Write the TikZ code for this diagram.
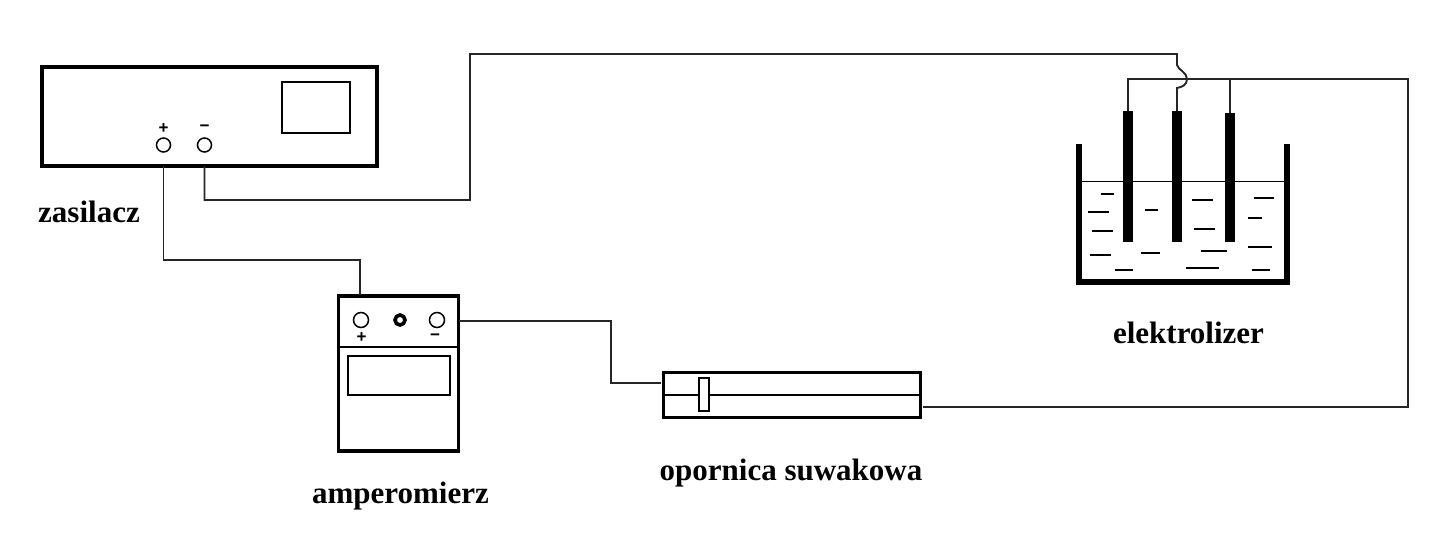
\documentclass[tikz,border=0pt]{standalone}
\usepackage{fontspec}
\setmainfont{Liberation Serif}
\newfontfamily\signfont{Liberation Sans}
\usetikzlibrary{positioning}
\tikzset{
  wire/.style={line width=1.9pt,black!85!white},
  casing/.style={draw,line width=3.6pt,inner sep=0pt,outer sep=0pt},
  thinbox/.style={draw,line width=2pt,inner sep=0pt},
  terminal/.style={draw,circle,line width=1.5pt,inner sep=0pt,minimum size=14pt},
  sign/.style={inner sep=0pt,font=\signfont\fontsize{17}{17}\selectfont\bfseries},
  electrode/.style={fill=black,inner sep=0pt,minimum width=10pt,anchor=north},
  caption/.style={inner sep=0pt,font=\fontsize{31}{31}\selectfont\bfseries},
}
\begin{document}
\begin{tikzpicture}[x=1pt,y=-1pt]
\useasboundingbox (0,0) rectangle (1447,544);

% power supply
\node[casing,minimum width=335pt,minimum height=99pt] (psu) at (209.5,116.5) {};
\node[thinbox,minimum width=68pt,minimum height=51pt] (psuscreen) at (316,107.5) {};
\node[terminal] (psuplus) at (163.5,145) {};
\node[terminal] (psuminus) at (204.5,145) {};
\node[sign] (psuplussign) at (163.5,129) {+};
\node[sign] (psuminussign) at (204.5,128) {−};
\node[caption] (psulabel) at (89,212) {zasilacz};

% ammeter
\node[casing,minimum width=120pt,minimum height=155pt] (amp) at (398.5,373.5) {};
\node[thinbox,minimum width=102pt,minimum height=39pt] (ampscreen) at (398.5,375.5) {};
\draw[line width=1.9pt] (amp.west |- 0,347) -- (amp.east |- 0,347);
\node[terminal,minimum size=15pt] (ampplus) at (361,320) {};
\node[terminal,line width=3.6pt,minimum size=10pt] (ampmid) at (400,320) {};
\node[terminal,minimum size=15pt] (ampminus) at (437,320) {};
\node[sign] (ampplussign) at (361.5,338) {+};
\node[sign] (ampminussign) at (435,337) {−};
\node[caption] (amplabel) at (400.5,496) {amperomierz};

% rheostat
\node[casing,minimum width=257pt,minimum height=45pt] (rheo) at (792,395) {};
\draw[line width=1.9pt] (rheo.west) -- (rheo.east);
\node[thinbox,fill=white,minimum width=10pt,minimum height=33pt] (slider) at (704,394.5) {};
\node[caption] (rheolabel) at (791,473) {opornica suwakowa};

% electrolyser
\draw[line width=6pt] (1079,144) -- (1079,282) -- (1287,282) -- (1287,144);
\draw[line width=1.9pt] (1082,181.5) -- (1284,181.5);
\node[electrode,minimum height=131pt] (elone) at (1128,111) {};
\node[electrode,minimum height=131pt] (eltwo) at (1177,111) {};
\node[electrode,minimum height=129pt] (elthree) at (1230,113) {};
\foreach \xa/\xb/\yy in {1100.7/1114.3/194,1088.3/1108.7/212.3,1092.3/1112.7/231,
    1090.3/1110.7/255.3,1114.7/1133/269.7,1141.3/1159.7/253.3,1145.3/1157.7/210.3,
    1192.3/1212.7/200,1194.3/1214.7/228.7,1200.7/1227/251,1186.3/1219/267.7,
    1253.7/1274/198,1247.7/1262/218.3,1247.7/1272/247,1251.7/1270/269.7}{
  \draw[line width=1.9pt] (\xa,\yy) -- (\xb,\yy);
}
\node[caption] (ellabel) at (1188.5,333) {elektrolizer};

% wires
\coordinate (bendamp) at (300,260);
\coordinate (bendminus) at (470,200);
\coordinate (bendtop) at (470,54);
\coordinate (busright) at (1408,79);
\coordinate (rheoin) at (661,383);
\coordinate (rheoout) at (923,407);
\coordinate (midbend) at (611,321);

\draw[wire] (psuplus |- psu.south) |- (bendamp) -| (360,295);
\draw[wire] (psuminus |- psu.south) |- (bendminus) -- (bendtop) -| (1177,65)
  .. controls (1178,70) and (1187,72) .. (1187,79)
  .. controls (1187,85) and (1182,87) .. (1177,88) -- (eltwo.north);
\draw[wire] (amp.east |- midbend) -- (midbend) |- (rheoin);
\draw[wire] (elone.north) |- (busright) |- (rheoout);
\draw[wire] (elthree.north) -- (elthree.north |- busright);

\end{tikzpicture}
\end{document}
